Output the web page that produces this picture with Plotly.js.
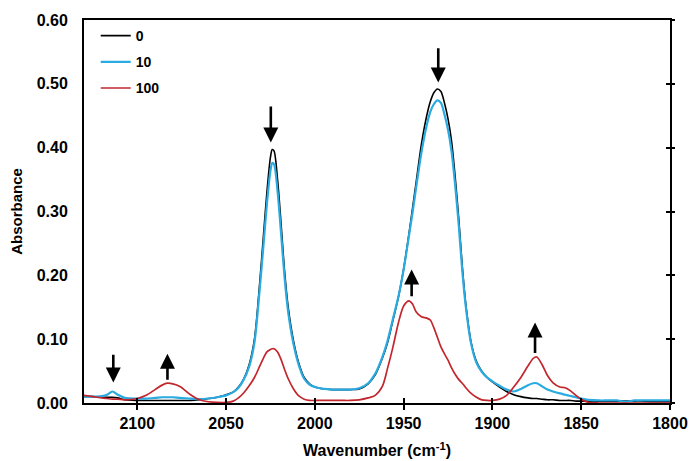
<!DOCTYPE html>
<html>
<head>
<meta charset="utf-8">
<script src="https://cdn.plot.ly/plotly-3.0.1.min.js"></script>
<style>html,body{margin:0;padding:0;background:#fff;}#chart{width:691px;height:461px;}</style>
</head>
<body>
<div id="chart"></div>
<script>
// Wavenumber (cm-1)
const wavenumber = [2130,2125,2120,2117,2114,2111,2107,2100,2095,2090,2086,2083,2080,2076,2070,2065,2060,2055,2050,2046,2043,2040,2037,2034,2031,2029,2027,2025,2024,2023,2021,2019,2017,2015,2012,2009,2006,2003,2000,1995,1990,1985,1980,1975,1970,1966,1962,1959,1956,1953,1950,1947,1945,1943,1940,1937,1935,1933,1931,1929,1927,1925,1923,1921,1919,1917,1915,1912,1909,1906,1903,1900,1896,1892,1888,1884,1880,1877,1875,1872,1869,1866,1862,1859,1856,1853,1850,1846,1840,1835,1830,1825,1820,1815,1810,1805,1800];
// Absorbance, series "0"
const abs0 = [0.010,0.010,0.009,0.009,0.009,0.008,0.005,0.004,0.004,0.004,0.004,0.004,0.004,0.004,0.004,0.005,0.007,0.009,0.013,0.017,0.025,0.038,0.060,0.100,0.190,0.260,0.330,0.385,0.397,0.395,0.350,0.280,0.205,0.150,0.097,0.062,0.040,0.030,0.025,0.022,0.021,0.021,0.021,0.022,0.030,0.044,0.070,0.095,0.130,0.165,0.210,0.265,0.305,0.345,0.405,0.450,0.472,0.486,0.492,0.488,0.470,0.445,0.410,0.355,0.290,0.215,0.155,0.095,0.065,0.050,0.040,0.033,0.025,0.018,0.013,0.010,0.008,0.007,0.007,0.006,0.005,0.005,0.004,0.004,0.004,0.003,0.003,0.003,0.003,0.003,0.003,0.003,0.003,0.003,0.002,0.002,0.002];
// Absorbance, series "10"
const abs10 = [0.010,0.010,0.011,0.013,0.018,0.013,0.008,0.007,0.007,0.008,0.009,0.009,0.009,0.008,0.007,0.006,0.007,0.009,0.012,0.017,0.024,0.037,0.057,0.095,0.180,0.245,0.312,0.364,0.376,0.374,0.332,0.265,0.195,0.142,0.092,0.059,0.038,0.029,0.025,0.022,0.021,0.021,0.021,0.023,0.031,0.046,0.072,0.098,0.132,0.166,0.209,0.262,0.298,0.337,0.392,0.435,0.456,0.468,0.474,0.470,0.452,0.428,0.394,0.342,0.280,0.208,0.151,0.093,0.063,0.049,0.040,0.034,0.027,0.021,0.018,0.022,0.028,0.031,0.031,0.026,0.021,0.018,0.015,0.013,0.011,0.009,0.007,0.005,0.004,0.004,0.004,0.002,0.004,0.004,0.004,0.004,0.004];
// Absorbance, series "100"
const abs100 = [0.012,0.010,0.008,0.007,0.006,0.006,0.005,0.007,0.012,0.021,0.028,0.031,0.030,0.026,0.013,0.005,0.002,0.001,0.001,0.003,0.008,0.016,0.027,0.040,0.058,0.070,0.080,0.084,0.085,0.085,0.080,0.068,0.052,0.038,0.022,0.011,0.006,0.004,0.004,0.004,0.004,0.004,0.004,0.005,0.008,0.012,0.026,0.055,0.088,0.125,0.152,0.160,0.155,0.143,0.135,0.133,0.130,0.118,0.103,0.088,0.077,0.067,0.055,0.045,0.037,0.031,0.024,0.015,0.009,0.005,0.004,0.004,0.006,0.012,0.025,0.040,0.058,0.070,0.072,0.060,0.043,0.032,0.025,0.024,0.019,0.012,0.006,0.001,0,0,0,0,0,0,0,0,0];

const seriesNames = ['0','10','100'];
const seriesColors = ['#000000','#29aae1','#c1272d'];
const seriesWidths = [1.6,2.2,1.7];
const seriesData = [abs0, abs10, abs100];

// Arrows: [tip wavenumber, tip absorbance, tail absorbance]
const arrowX = [2113.5, 2083, 2024.8, 1930.5, 1945.5, 1876];
const arrowTip = [0.032, 0.077, 0.408, 0.502, 0.209, 0.126];
const arrowTail = [0.078, 0.034, 0.467, 0.558, 0.165, 0.076];

const font = 'Liberation Sans, Arial, sans-serif';
const traces = seriesData.map((d, i) => ({
  x: wavenumber, y: d, type: 'scatter', mode: 'lines', name: seriesNames[i],
  line: {color: seriesColors[i], width: seriesWidths[i], shape: 'spline', smoothing: 0.8},
  legendgroup: 'g' + i
}));
// empty traces to activate the tick-only overlay axes
traces.push({x: [], y: [], xaxis: 'x2', yaxis: 'y', showlegend: false, hoverinfo: 'skip'});
traces.push({x: [], y: [], xaxis: 'x', yaxis: 'y2', showlegend: false, hoverinfo: 'skip'});
traces.push({x: [], y: [], xaxis: 'x', yaxis: 'y3', showlegend: false, hoverinfo: 'skip'});

const annotations = arrowX.map((x, i) => ({
  x: x, y: arrowTip[i], ax: x, ay: arrowTail[i], xref: 'x', yref: 'y', axref: 'x', ayref: 'y',
  showarrow: true, arrowhead: 2, arrowsize: 1.15, arrowwidth: 2.6, arrowcolor: '#000', text: ''
}));

const tickFont = {family: font, size: 16, color: '#000', weight: 'bold'};
const layout = {
  width: 691, height: 461,
  margin: {l: 84, r: 21, t: 20, b: 58},
  paper_bgcolor: '#fff', plot_bgcolor: '#fff',
  showlegend: true,
  legend: {x: 0.02, y: 1.0, xanchor: 'left', yanchor: 'top', bgcolor: 'rgba(0,0,0,0)',
    font: {family: font, size: 14, color: '#000', weight: 'bold'}, tracegroupgap: 5, itemwidth: 30,
    traceorder: 'grouped'},
  xaxis: {range: [2130, 1800], tick0: 1800, dtick: 50, tickformat: 'd', showgrid: false, zeroline: false,
    showline: true, linecolor: '#000', linewidth: 2, mirror: true,
    ticks: 'outside', ticklen: 5, tickwidth: 2, tickcolor: '#000', tickfont: tickFont,
    ticklabelstandoff: 0,
    title: {text: 'Wavenumber (cm<sup>-1</sup>)', font: {family: font, size: 16, color: '#000', weight: 'bold'}, standoff: 14}},
  xaxis2: {range: [2130, 1800], overlaying: 'x', anchor: 'y', side: 'bottom', tick0: 1800, dtick: 50,
    showgrid: false, zeroline: false, showline: false, ticks: 'inside', ticklen: 5, tickwidth: 2, tickcolor: '#000',
    showticklabels: false},
  yaxis: {range: [0, 0.6], dtick: 0.1, tickformat: '.2f', showgrid: false, zeroline: false,
    showline: true, linecolor: '#000', linewidth: 2, mirror: true, ticks: '', tickfont: tickFont,
    ticklabelstandoff: 11,
    title: {text: 'Absorbance', font: {family: font, size: 15, color: '#000', weight: 'bold'}, standoff: 10}},
  yaxis2: {range: [0, 0.6], dtick: 0.1, overlaying: 'y', anchor: 'x', side: 'right', showgrid: false, zeroline: false,
    showline: false, ticks: 'outside', ticklen: 4, tickwidth: 2, tickcolor: '#000', showticklabels: false},
  yaxis3: {range: [0, 0.6], dtick: 0.1, overlaying: 'y', anchor: 'x', side: 'right', showgrid: false, zeroline: false,
    showline: false, ticks: 'inside', ticklen: 4, tickwidth: 2, tickcolor: '#000', showticklabels: false},
  annotations: annotations
};
Plotly.newPlot('chart', traces, layout, {displayModeBar: false, staticPlot: true});
</script>
</body>
</html>
